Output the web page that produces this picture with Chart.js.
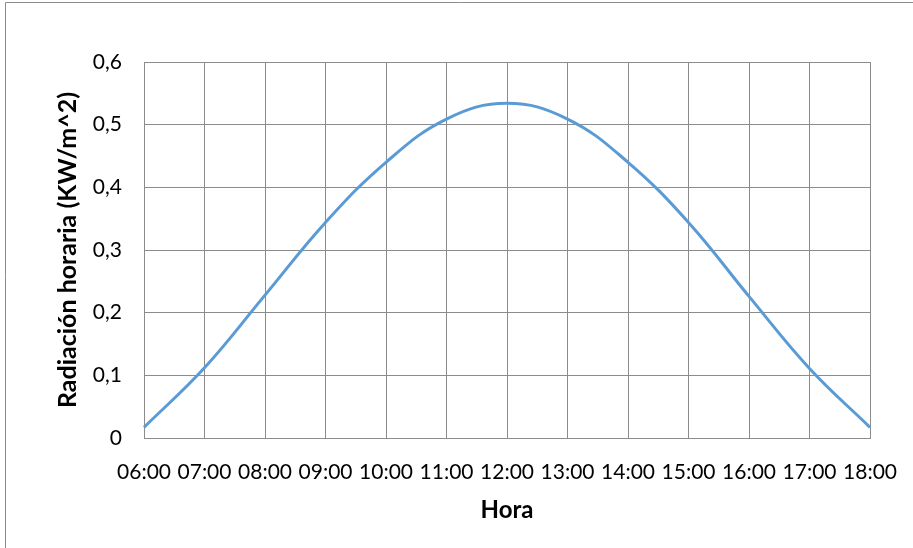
<!DOCTYPE html>
<html>
<head>
<meta charset="utf-8">
<script src="https://cdn.jsdelivr.net/npm/chart.js@4.4.1/dist/chart.umd.min.js"></script>
<style>
  html, body { margin: 0; padding: 0; background: #ffffff; }
  #wrap { width: 913px; height: 548px; position: relative; }
</style>
</head>
<body>
<div id="wrap"><canvas id="c" width="913" height="548"></canvas></div>
<script>
// Hourly solar radiation over the day
const horas = ['06:00','07:00','08:00','09:00','10:00','11:00','12:00','13:00','14:00','15:00','16:00','17:00','18:00'];
const radiacion = [0.017, 0.112, 0.228, 0.344, 0.440, 0.509, 0.534, 0.509, 0.440, 0.344, 0.226, 0.111, 0.017];
const yTicks = [0, 0.1, 0.2, 0.3, 0.4, 0.5, 0.6];

const FONT = 'Lato, "Open Sans", sans-serif';
const GRID = '#8c8c8c';

// Outer frame of the chart object
const frame = {
  id: 'frame',
  beforeDraw(chart) {
    const ctx = chart.ctx;
    ctx.save();
    ctx.fillStyle = '#ffffff';
    ctx.fillRect(0, 0, chart.width, chart.height);
    ctx.strokeStyle = '#8c8c8c';
    ctx.lineWidth = 1;
    ctx.beginPath();
    ctx.moveTo(5.5, chart.height);
    ctx.lineTo(5.5, 2.5);
    ctx.lineTo(chart.width, 2.5);
    ctx.stroke();
    ctx.restore();
  }
};

new Chart(document.getElementById('c'), {
  type: 'line',
  data: {
    labels: horas,
    datasets: [{
      data: radiacion,
      borderColor: '#5b9bd5',
      borderWidth: 3,
      pointRadius: 0,
      tension: 0.4,
      fill: false
    }]
  },
  options: {
    responsive: false,
    animation: false,
    layout: { padding: { top: 62, right: 43, left: 0, bottom: 0 } },
    plugins: { legend: { display: false }, tooltip: { enabled: false } },
    scales: {
      x: {
        type: 'category',
        offset: false,
        grid: { color: GRID, lineWidth: 1, drawTicks: false },
        border: { color: GRID },
        ticks: {
          color: '#000000',
          font: { family: FONT, size: 21 },
          padding: 22,
          maxRotation: 0,
          autoSkip: false
        },
        title: {
          display: true,
          text: 'Hora',
          color: '#000000',
          font: { family: FONT, size: 24, weight: 'bold' },
          padding: { top: 0, bottom: 23 }
        },
        afterFit(scale) {
          scale.height = 548 - 438;
          scale.paddingLeft = 0;
          scale.paddingRight = 0;
        }
      },
      y: {
        min: 0,
        max: 0.6,
        afterBuildTicks(scale) { scale.ticks = yTicks.map(v => ({ value: v })); },
        grid: { color: GRID, lineWidth: 1, drawTicks: false },
        border: { color: GRID },
        ticks: {
          color: '#000000',
          font: { family: FONT, size: 21 },
          padding: 22,
          callback: v => v === 0 ? '0' : v.toFixed(1).replace('.', ',')
        },
        title: {
          display: true,
          text: 'Radiación horaria (KW/m^2)',
          color: '#000000',
          font: { family: FONT, size: 25, weight: 'bold' },
          padding: { top: 53, bottom: 0 }
        },
        afterFit(scale) {
          scale.width = 144;
          scale.paddingTop = 0;
          scale.paddingBottom = 0;
        }
      }
    }
  },
  plugins: [frame]
});
</script>
</body>
</html>
